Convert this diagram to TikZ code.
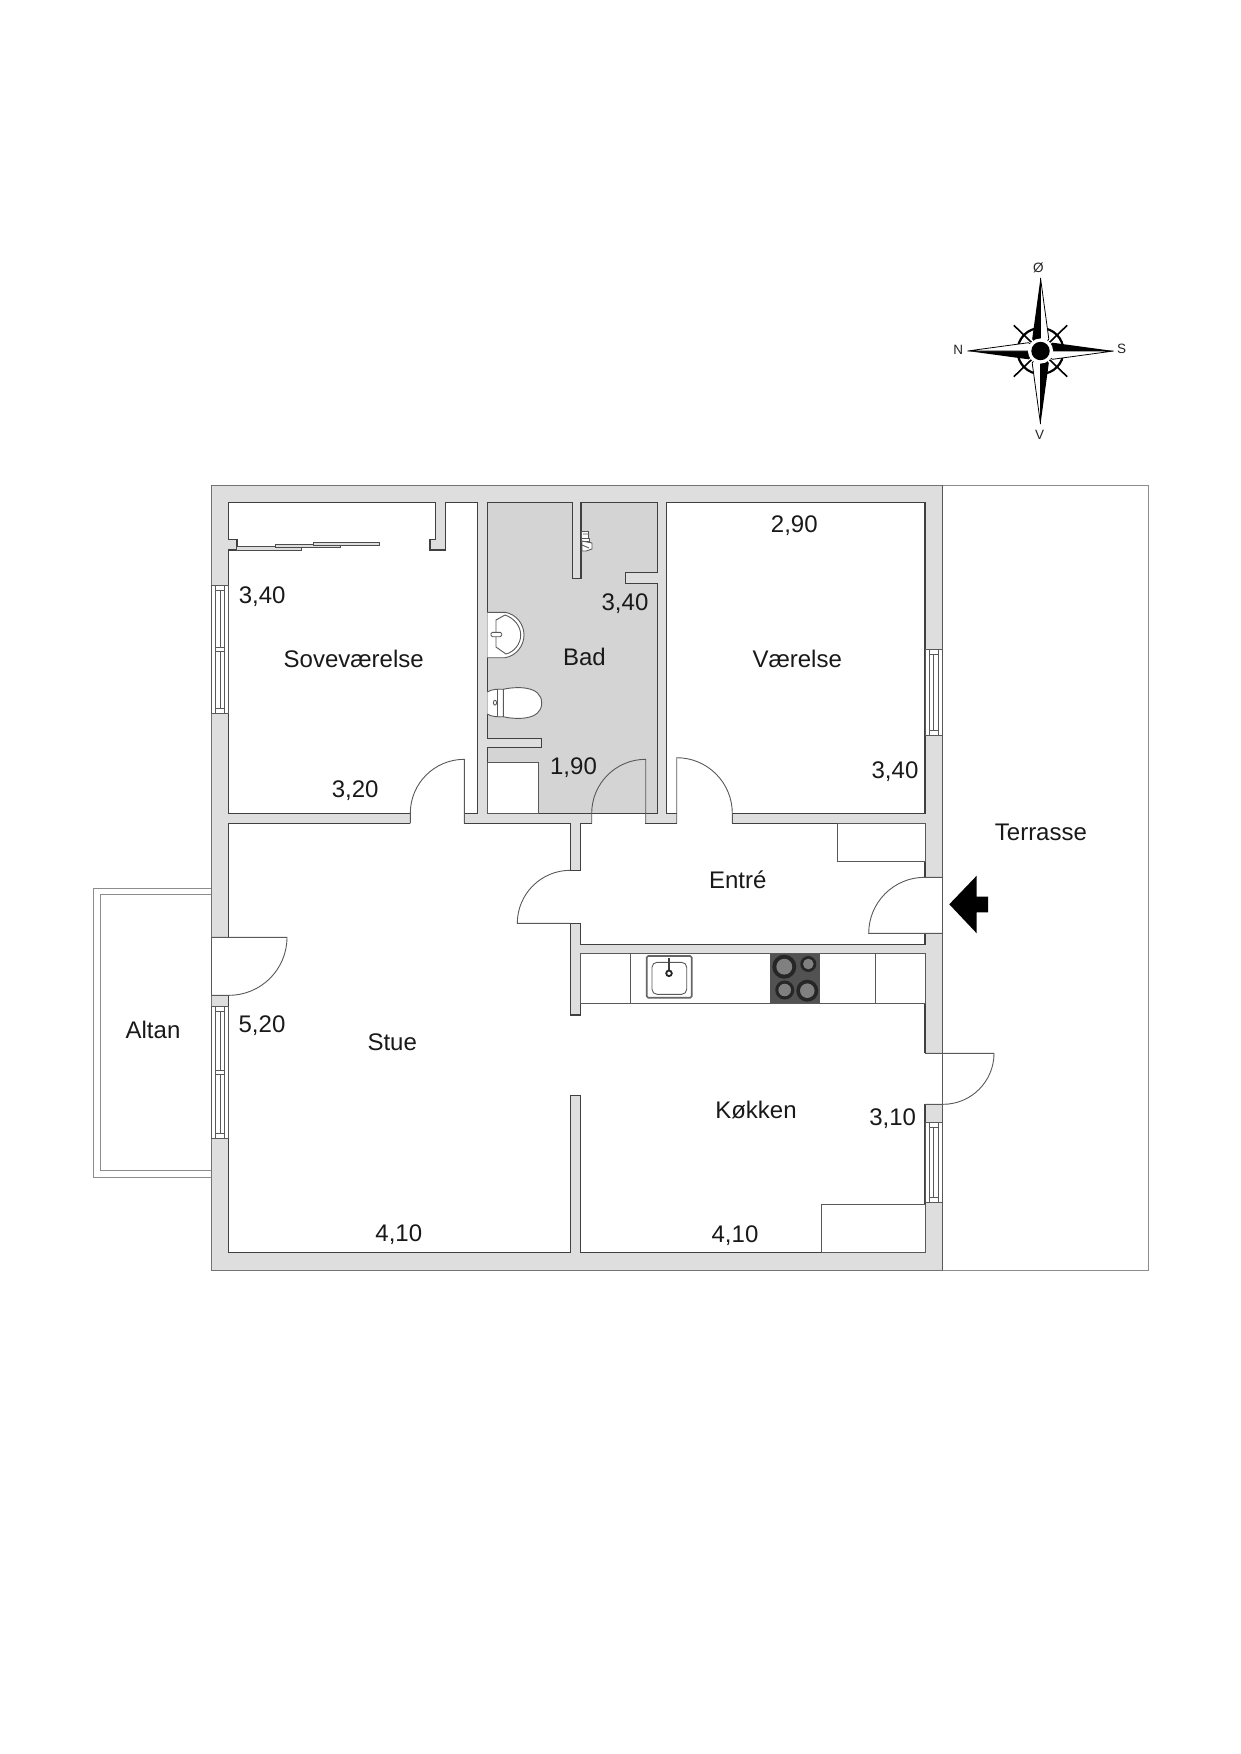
\documentclass[tikz,border=0pt]{standalone}
\usepackage{fontspec}
\setmainfont{Liberation Sans}
\usepackage{tikz}

\tikzset{
    wall/.style={draw=black!75, line width=1.2pt, fill=white},
    leaf/.style={draw=black!65, line width=0.9pt},
    fit/.style={draw=black!65, line width=0.9pt, fill=white},
    rim/.style={draw=black!45, line width=1pt},
    slider/.style={draw=black!70, line width=0.9pt, fill=black!13},
    roomlabel/.style={anchor=base, inner sep=0pt, font=\fontsize{24}{28}\selectfont, text=black!90},
    windlabel/.style={inner sep=0pt, font=\fontsize{13.5}{15}\selectfont, text=black!85},
}

\begin{document}
\begin{tikzpicture}[x=1pt, y=-1pt]
        \useasboundingbox (0,0) rectangle (1240,1754);
        \fill[white] (0,0) rectangle (1240,1754);

        % Terrace and balcony
        \draw[rim] (942.3,485) rectangle (1148,1270);
        \draw[rim] (211.3,888) -- (93.7,888) -- (93.7,1177) -- (211.3,1177);
        \draw[rim] (211.3,894.7) -- (100.7,894.7) -- (100.7,1170.3) -- (211.3,1170.3);

        % Outer wall
        \draw[rim, draw=black!55, fill=black!13] (211.3,485) rectangle (942.3,1270);

        % Rooms
        \draw[wall] (228.7,502.3) -- (435.3,502.3) -- (435.3,539.3) -- (430,539.3) -- (430,550) -- (445.3,550)
            -- (445.3,502.3) -- (477.3,502.3) -- (477.3,813.3) -- (228.7,813.3) -- (228.7,550) -- (237,550)
            -- (237,539.3) -- (228.7,539.3) -- cycle;
        \draw[wall, fill=black!17] (487.3,502.3) -- (572.3,502.3) -- (572.3,578.3) -- (581,578.3) -- (581,502.3)
            -- (657.7,502.3) -- (657.7,572.7) -- (625.7,572.7) -- (625.7,583.7) -- (657.7,583.7) -- (657.7,813.3)
            -- (487.3,813.3) -- (487.3,747.7) -- (541.7,747.7) -- (541.7,738.3) -- (487.3,738.3) -- cycle;
        \draw[wall] (666.3,502.3) rectangle (925,813.3);
        \draw[wall] (228.7,823.3) -- (570.3,823.3) -- (570.3,870.7) -- (580.7,870.7) -- (580.7,823.3) -- (925,823.3)
            -- (925,944.3) -- (580.7,944.3) -- (580.7,923.3) -- (570.3,923.3) -- (570.3,1015) -- (580.7,1015)
            -- (580.7,953.7) -- (925,953.7) -- (925,1252.7) -- (580.7,1252.7) -- (580.7,1095.7) -- (570.3,1095.7)
            -- (570.3,1252.7) -- (228.7,1252.7) -- cycle;

        % Sliding doors
        \draw[slider] (236.7,546.7) rectangle (301.7,550);
        \draw[slider] (275,544.3) rectangle (340,547.7);
        \draw[slider] (313.3,542) rectangle (379,545.3);

        % Door openings
        \fill[white] (410.3,812.6) rectangle (464.3,824);
        \fill[white] (592.3,813.9) rectangle (645.1,824);
        \fill[white] (676.7,812.6) rectangle (732.3,824);
        \fill[white] (924.4,877.3) rectangle (942.3,933.3);
        \fill[white] (924.4,1053.3) rectangle (942.3,1104.3);
        \fill[white] (211.3,937.3) rectangle (229.3,995.3);

        % Doors
        \draw[leaf] (410.3,823.3) -- (410.3,813.3) arc[start angle=180, end angle=90, radius=54pt] -- (464.3,823.3);
        \draw[leaf] (591.7,823.3) -- (591.7,813.3) arc[start angle=180, end angle=90, radius=54pt] -- (645.7,823.3);
        \draw[leaf] (676.7,823.3) -- (676.7,757.7) arc[start angle=90, end angle=0, radius=55.6pt] -- (732.3,823.3);
        \draw[leaf] (570.3,923.3) -- (517.3,923.3) arc[start angle=180, end angle=90, radius=53pt];
        \draw[leaf] (942.3,933.3) -- (868.7,933.3) arc[start angle=180, end angle=90, radius=56pt] -- (942.3,877.3);
        \draw[leaf] (211.3,937.3) -- (287,937.3) arc[start angle=0, end angle=-90, radius=58pt] -- (211.3,995.3);
        \draw[leaf] (925,1053.3) -- (994,1053.3) arc[start angle=0, end angle=-90, radius=51pt] -- (925,1104.3);
        \draw[leaf] (942.3,485) -- (942.3,1270);
        \draw[leaf] (211.3,937.3) -- (211.3,995.3);

        % Windows
        \foreach \xa/\ya/\yb/\yc in {211.3/585.3/649.5/713.3, 211.3/1006/1072.5/1138.3, 925/649.3/-1/735.3, 925/1122.7/-1/1202.3} {
            \draw[fit] (\xa,\ya) rectangle ++(17.4,\yc-\ya);
            \draw[fit] (\xa+4.6,\ya) rectangle ++(8.8,\yc-\ya);
            \draw[leaf] (\xa+8.7,\ya+5) -- (\xa+8.7,\yc-5);
            \draw[leaf] (\xa+4.6,\ya+5) -- ++(8.8,0) (\xa+4.6,\yc-5) -- ++(8.8,0);
            \ifdim \yb pt>0pt
                \draw[fit] (\xa+4.6,\yb-2.3) rectangle ++(8.8,4.6);
            \fi
        }

        % Fitted units
        \draw[fit] (837.7,823.3) rectangle (925,861.7);
        \draw[fit] (821.7,1204.7) rectangle (925,1252.7);
        \draw[fit] (580.7,953.7) rectangle (925,1003.3);
        \draw[leaf] (630.3,953.7) -- (630.3,1003.3);
        \draw[leaf] (875,953.7) -- (875,1003.3);
        \draw[fit] (487.3,762.7) rectangle (538.3,813.3);

        % Kitchen sink
        \draw[draw=black!60, line width=1.6pt, rounded corners=1.5pt] (646.7,956) rectangle (691.7,997.7);
        \draw[leaf, rounded corners=5pt] (652,962.3) rectangle (686.7,994.3);
        \draw[black!75, line width=1.6pt] (669,958.3) -- (669,970);
        \draw[black!85, line width=1.8pt] (669,973.3) circle[radius=2.8pt];

        % Hob
        \fill[black!68] (770,953.7) rectangle (820,1003.3);
        \foreach \bx/\by/\br in {784.3/966.7/12, 808.3/964/8, 784.7/990/9.5, 807.3/990.7/11} {
            \fill[black!85] (\bx,\by) circle[radius=\br pt];
            \fill[black!50] (\bx,\by) circle[radius=0.66*\br pt];
        }

        % Bathroom fittings
        \draw[fit] (487.3,612.3) -- (505,612.3) .. controls (516,614) and (524,624) .. (524,635)
            .. controls (524,646) and (516,656) .. (505,657.7) -- (487.3,657.7);
        \draw[leaf] (496,620) -- (505,615) .. controls (514,618) and (520.7,626) .. (520.7,635)
            .. controls (520.7,644) and (514,652) .. (506,654) -- (496,647) -- cycle;
        \draw[leaf, fill=white, rounded corners=1.5pt] (491,632.3) rectangle (501.7,636.7);
        \draw[fit] (503.3,689.3) .. controls (515,686.5) and (541.7,685) .. (541.7,703)
            .. controls (541.7,721) and (515,719.5) .. (503.3,716.7) -- cycle;
        \draw[fit] (487.3,692) .. controls (492,689) and (498,689) .. (503.3,689.3) -- (503.3,716.7)
            .. controls (498,717) and (492,717) .. (487.3,714);
        \draw[leaf] (497.3,689.3) -- (497.3,716.7);
        \draw[leaf] (495,702.7) ellipse[x radius=1.6pt, y radius=2.4pt];
        \draw[fit] (581.7,531) rectangle (588.6,538.3);
        \draw[fit] (581.7,538.3) rectangle (589,541);
        \draw[fit] (582,541) -- (592,543) -- (592,549) -- (586,551) -- (582,551) -- cycle;
        \draw[leaf] (582,545) -- (589,548) (583,534) -- (588,534);

        % Entrance arrow
        \fill[black] (949.3,904.3) -- (976.7,875.7) -- (976.7,896.7) -- (988,896.7) -- (988,912.3) -- (976.7,912.3) -- (976.7,933.3) -- cycle;

        % Compass
        \begin{scope}[shift={(1040.5,351)}]
            \draw[black, line width=2.2pt] (0,0) circle[radius=23pt];
            \draw[black, line width=1.6pt] (-26.7,-25.7) -- (26.7,25.7) (26.7,-25.7) -- (-26.7,25.7);
            \foreach \ang in {0,90,180,270} {
                \begin{scope}[rotate=\ang]
                    \fill[black] (0,-73) -- (-8.3,-12) -- (0,0) -- cycle;
                    \draw[fill=white, line width=0.8pt] (0,-73) -- (8.3,-12) -- (0,0) -- cycle;
                \end{scope}
            }
            \fill[white] (0,0) circle[radius=12.6pt];
            \fill[black] (0,0) circle[radius=9.2pt];
        \end{scope}
        \node[windlabel] (north) at (958.3,350) {N};
        \node[windlabel] (south) at (1121.5,349) {S};
        \node[windlabel] (east) at (1038.3,268) {Ø};
        \node[windlabel] (west) at (1039.5,435) {V};

        % Labels
        \node[roomlabel] (sove) at (353.7,667.7) {Soveværelse};
        \node[roomlabel] (bad) at (584.4,665.7) {Bad};
        \node[roomlabel] (vaer) at (797.2,667.3) {Værelse};
        \node[roomlabel] (terrasse) at (1040.9,840) {Terrasse};
        \node[roomlabel] (entre) at (737.8,888.3) {Entré};
        \node[roomlabel] (kokken) at (756,1118.3) {Køkken};
        \node[roomlabel] (altan) at (153,1038.3) {Altan};
        \node[roomlabel] (stue) at (392.2,1050.7) {Stue};
        \node[roomlabel] (sovea) at (262.2,603.3) {3,40};
        \node[roomlabel] (soveb) at (355.2,797.8) {3,20};
        \node[roomlabel] (bada) at (625,610.5) {3,40};
        \node[roomlabel] (badb) at (573.5,774) {1,90};
        \node[roomlabel] (vaera) at (794.3,532.5) {2,90};
        \node[roomlabel] (vaerb) at (895,778) {3,40};
        \node[roomlabel] (kokkena) at (892.7,1125) {3,10};
        \node[roomlabel] (kokkenb) at (735,1242) {4,10};
        \node[roomlabel] (stuea) at (262,1032.3) {5,20};
        \node[roomlabel] (stueb) at (398.8,1241) {4,10};
    \end{tikzpicture}
\end{document}
